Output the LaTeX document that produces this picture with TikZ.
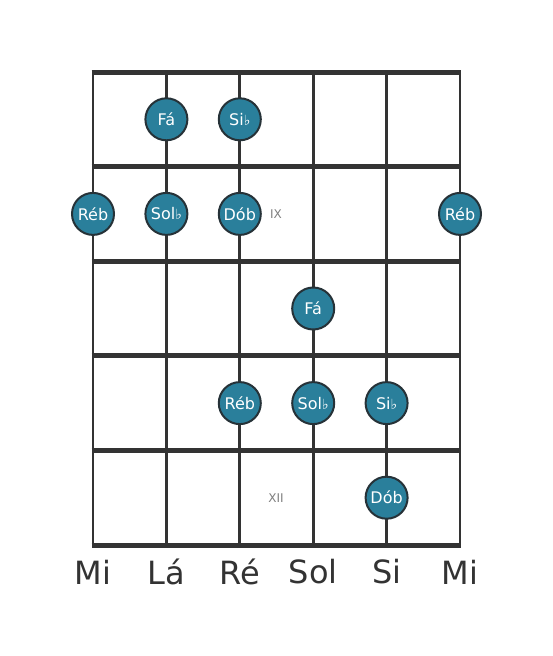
\documentclass[tikz,border=0pt]{standalone}
\usepackage{fontspec}
\setmainfont{DejaVu Sans}
\definecolor{notefill}{HTML}{2A7F9B}
\definecolor{noteedge}{HTML}{263238}
\definecolor{boardline}{HTML}{333333}
\begin{document}
\begin{tikzpicture}[x=1pt,y=-1pt,
  fretline/.style={line width=5pt,draw=boardline},
  stringline/.style={line width=2.8pt,draw=boardline},
  note/.style={circle,fill=notefill,draw=noteedge,line width=2pt,minimum size=42pt,inner sep=0pt,text=white,font=\fontsize{16}{16}\selectfont},
  fretnum/.style={text=gray,font=\fontsize{12}{12}\selectfont},
  strname/.style={text=boardline,font=\fontsize{32}{32}\selectfont}]
\useasboundingbox (0,0) rectangle (553,656);
\fill[white] (0,0) rectangle (553,656);
% strings
\foreach \i/\x in {1/93,2/166.4,3/239.8,4/313.2,5/386.6,6/460}{
  \coordinate (st\i) at (\x,72);
  \coordinate (sb\i) at (\x,545);
  \draw[stringline] (st\i) -- (sb\i);
}
% frets
\foreach \j/\y in {0/72,1/166.6,2/261.2,3/355.8,4/450.4,5/545}{
  \coordinate (fl\j) at (91.6,\y);
  \coordinate (fr\j) at (461.4,\y);
  \draw[fretline] (fl\j) -- (fr\j);
}
\newcommand{\fl}{{\fontsize{14}{14}\selectfont ♭}}
% notes
\node[note] (n1) at (166.4,119.3) {Fá};
\node[note] (n2) at (239.8,119.3) {Si\fl};
\node[note] (n3) at (93,213.9) {Réb};
\node[note] (n4) at (166.4,213.9) {Sol\fl};
\node[note] (n5) at (239.8,213.9) {Dób};
\node[note] (n6) at (460,213.9) {Réb};
\node[note] (n7) at (313.2,308.5) {Fá};
\node[note] (n8) at (239.8,403.1) {Réb};
\node[note] (n9) at (313.2,403.1) {Sol\fl};
\node[note] (n10) at (386.6,403.1) {Si\fl};
\node[note] (n11) at (386.6,497.7) {Dób};
% fret numbers
\node[fretnum] (f9) at (276,214) {IX};
\node[fretnum] (f12) at (276,497.7) {XII};
% string names
\node[strname] (m1) at (93,572) {Mi};
\node[strname] (m2) at (166.4,572) {Lá};
\node[strname] (m3) at (239.8,572) {Ré};
\node[strname] (m4) at (313.2,572) {Sol};
\node[strname] (m5) at (386.6,572) {Si};
\node[strname] (m6) at (460,572) {Mi};
\end{tikzpicture}
\end{document}
